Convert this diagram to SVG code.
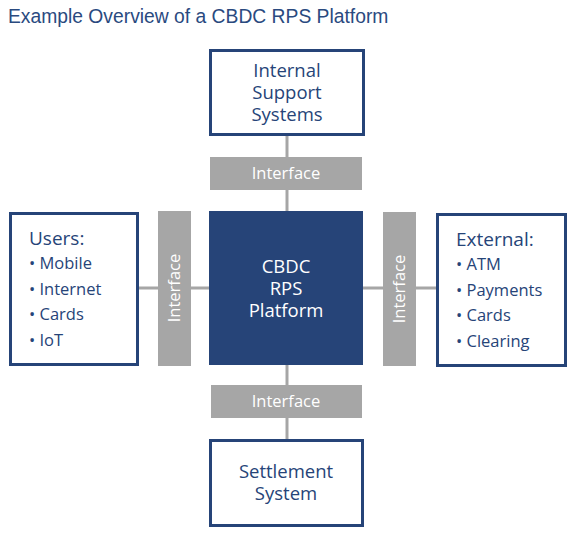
<svg xmlns="http://www.w3.org/2000/svg" width="577" height="542" viewBox="0 0 577 542">
<style>
.box{fill:#fff;stroke:#264478;stroke-width:3}
.core{fill:#264478}
.ifc{fill:#a6a6a6}
.ln{stroke:#a6a6a6;stroke-width:3;fill:none}
.t{font-family:"Open Sans","Noto Sans",sans-serif;font-size:18.5px;fill:#264478}
.h{font-family:"Open Sans","Noto Sans",sans-serif;font-size:19px;fill:#264478}
.l{font-family:"Open Sans","Noto Sans",sans-serif;font-size:16.5px;fill:#264478}
.tc{font-family:"Open Sans","Noto Sans",sans-serif;font-size:18.5px;fill:#fff;text-anchor:middle}
.ti{font-family:"Open Sans","Noto Sans",sans-serif;font-size:16.5px;fill:#fff;text-anchor:middle}
.title{font-family:"Liberation Sans",Arial,sans-serif;font-size:19.3px;fill:#2a4a7f}
</style>
<rect width="577" height="542" fill="#fff"/>
<text class="title" x="8" y="23">Example Overview of a CBDC RPS Platform</text>
<g id="connectors">
<line class="ln" x1="287" y1="136" x2="287" y2="211"/>
<line class="ln" x1="287" y1="365" x2="287" y2="439"/>
<line class="ln" x1="139" y1="288" x2="209" y2="288"/>
<line class="ln" x1="363" y1="288" x2="436" y2="288"/>
</g>
<g id="internal">
<rect class="box" x="210.5" y="50.5" width="153" height="84"/>
<text class="t" text-anchor="middle"><tspan x="287" y="77">Internal</tspan><tspan x="287" y="99">Support</tspan><tspan x="287" y="121">Systems</tspan></text>
</g>
<g id="if-top">
<rect class="ifc" x="210" y="157" width="152" height="33"/>
<text class="ti" x="286" y="179">Interface</text>
</g>
<g id="core">
<rect class="core" x="209" y="211" width="154" height="154"/>
<text class="tc"><tspan x="286" y="273">CBDC</tspan><tspan x="286" y="295">RPS</tspan><tspan x="286" y="317">Platform</tspan></text>
</g>
<g id="users">
<rect class="box" x="10.5" y="213.5" width="127" height="151"/>
<text class="h" x="29" y="245">Users:</text>
<text class="l" x="29" y="269">• Mobile</text>
<text class="l" x="29" y="295">• Internet</text>
<text class="l" x="29" y="320">• Cards</text>
<text class="l" x="29" y="346">•  IoT</text>
</g>
<g id="if-left">
<rect class="ifc" x="158" y="211" width="33" height="155"/>
<text class="ti" transform="translate(180,288) rotate(-90)">Interface</text>
</g>
<g id="if-right">
<rect class="ifc" x="383" y="212" width="33" height="154"/>
<text class="ti" transform="translate(405,289) rotate(-90)">Interface</text>
</g>
<g id="external">
<rect class="box" x="437.5" y="214.5" width="128" height="151"/>
<text class="h" x="456" y="246">External:</text>
<text class="l" x="456" y="270">• ATM</text>
<text class="l" x="456" y="296">• Payments</text>
<text class="l" x="456" y="321">• Cards</text>
<text class="l" x="456" y="347">•  Clearing</text>
</g>
<g id="if-bottom">
<rect class="ifc" x="211" y="385" width="151" height="33"/>
<text class="ti" x="286" y="407">Interface</text>
</g>
<g id="settlement">
<rect class="box" x="210.5" y="440.5" width="152" height="85"/>
<text class="t" text-anchor="middle"><tspan x="286" y="478">Settlement</tspan><tspan x="286" y="500">System</tspan></text>
</g>
</svg>
